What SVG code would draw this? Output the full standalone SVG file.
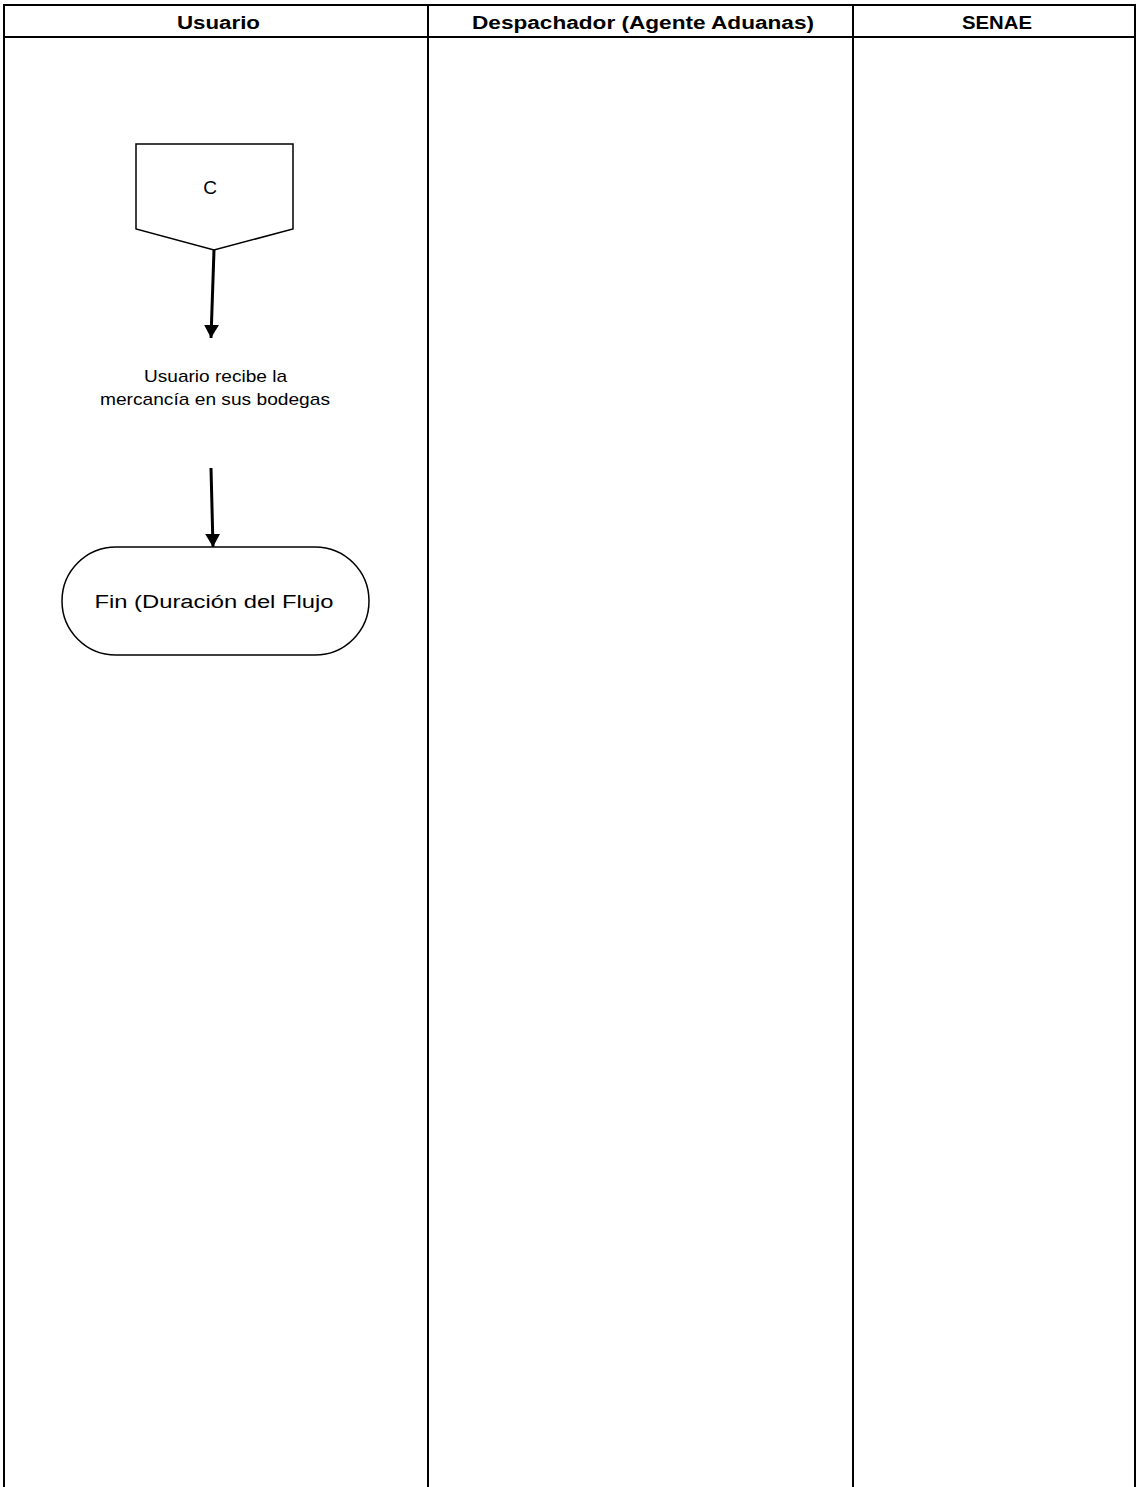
<svg xmlns="http://www.w3.org/2000/svg" width="1136" height="1487" viewBox="0 0 1136 1487">
<style>
.grid{stroke:#000;stroke-width:2;fill:none}
.hdr{font-family:"Liberation Sans",Arial,sans-serif;font-weight:bold;font-size:18px;text-anchor:middle;fill:#000}
.shape{fill:#fff;stroke:#000;stroke-width:1.5}
.lbl{font-family:"Liberation Sans",Arial,sans-serif;text-anchor:middle;fill:#000}
.conn{stroke:#000;stroke-width:3;fill:none}
</style>
<defs>
<marker id="arr" markerWidth="5" markerHeight="5" refX="4.4" refY="2.5" orient="auto" markerUnits="strokeWidth">
<path d="M0,0 L4.4,2.5 L0,5 Z" fill="#000"/>
</marker>
</defs>
<rect width="1136" height="1487" fill="#fff"/>
<g id="lanes">
<line class="grid" x1="4" y1="5" x2="1135" y2="5"/>
<line class="grid" x1="4" y1="37" x2="1135" y2="37"/>
<line class="grid" x1="4" y1="4" x2="4" y2="1487"/>
<line class="grid" x1="428" y1="4" x2="428" y2="1487"/>
<line class="grid" x1="853" y1="4" x2="853" y2="1487"/>
<line class="grid" x1="1135" y1="4" x2="1135" y2="1487"/>
<text class="hdr" x="218.5" y="29" textLength="83" lengthAdjust="spacingAndGlyphs">Usuario</text>
<text class="hdr" x="643" y="29" textLength="342" lengthAdjust="spacingAndGlyphs">Despachador (Agente Aduanas)</text>
<text class="hdr" x="997" y="29" textLength="70" lengthAdjust="spacingAndGlyphs">SENAE</text>
</g>
<g id="node-c">
<path class="shape" d="M136,144 L293,144 L293,229 L214,250 L136,229 Z"/>
<text class="lbl" x="210" y="194" font-size="19">C</text>
</g>
<g id="node-recibe">
<text class="lbl" x="215.5" y="382" font-size="17" textLength="143" lengthAdjust="spacingAndGlyphs">Usuario recibe la</text>
<text class="lbl" x="215" y="405" font-size="17" textLength="230" lengthAdjust="spacingAndGlyphs">mercancía en sus bodegas</text>
</g>
<g id="node-fin">
<rect class="shape" x="62" y="547" width="307" height="108" rx="54" ry="54"/>
<text class="lbl" x="214" y="608" font-size="18" textLength="239" lengthAdjust="spacingAndGlyphs">Fin (Duración del Flujo</text>
</g>
<g id="connectors">
<line class="conn" x1="214" y1="250" x2="211" y2="338" marker-end="url(#arr)"/>
<line class="conn" x1="211" y1="468" x2="213" y2="547" marker-end="url(#arr)"/>
</g>
</svg>
